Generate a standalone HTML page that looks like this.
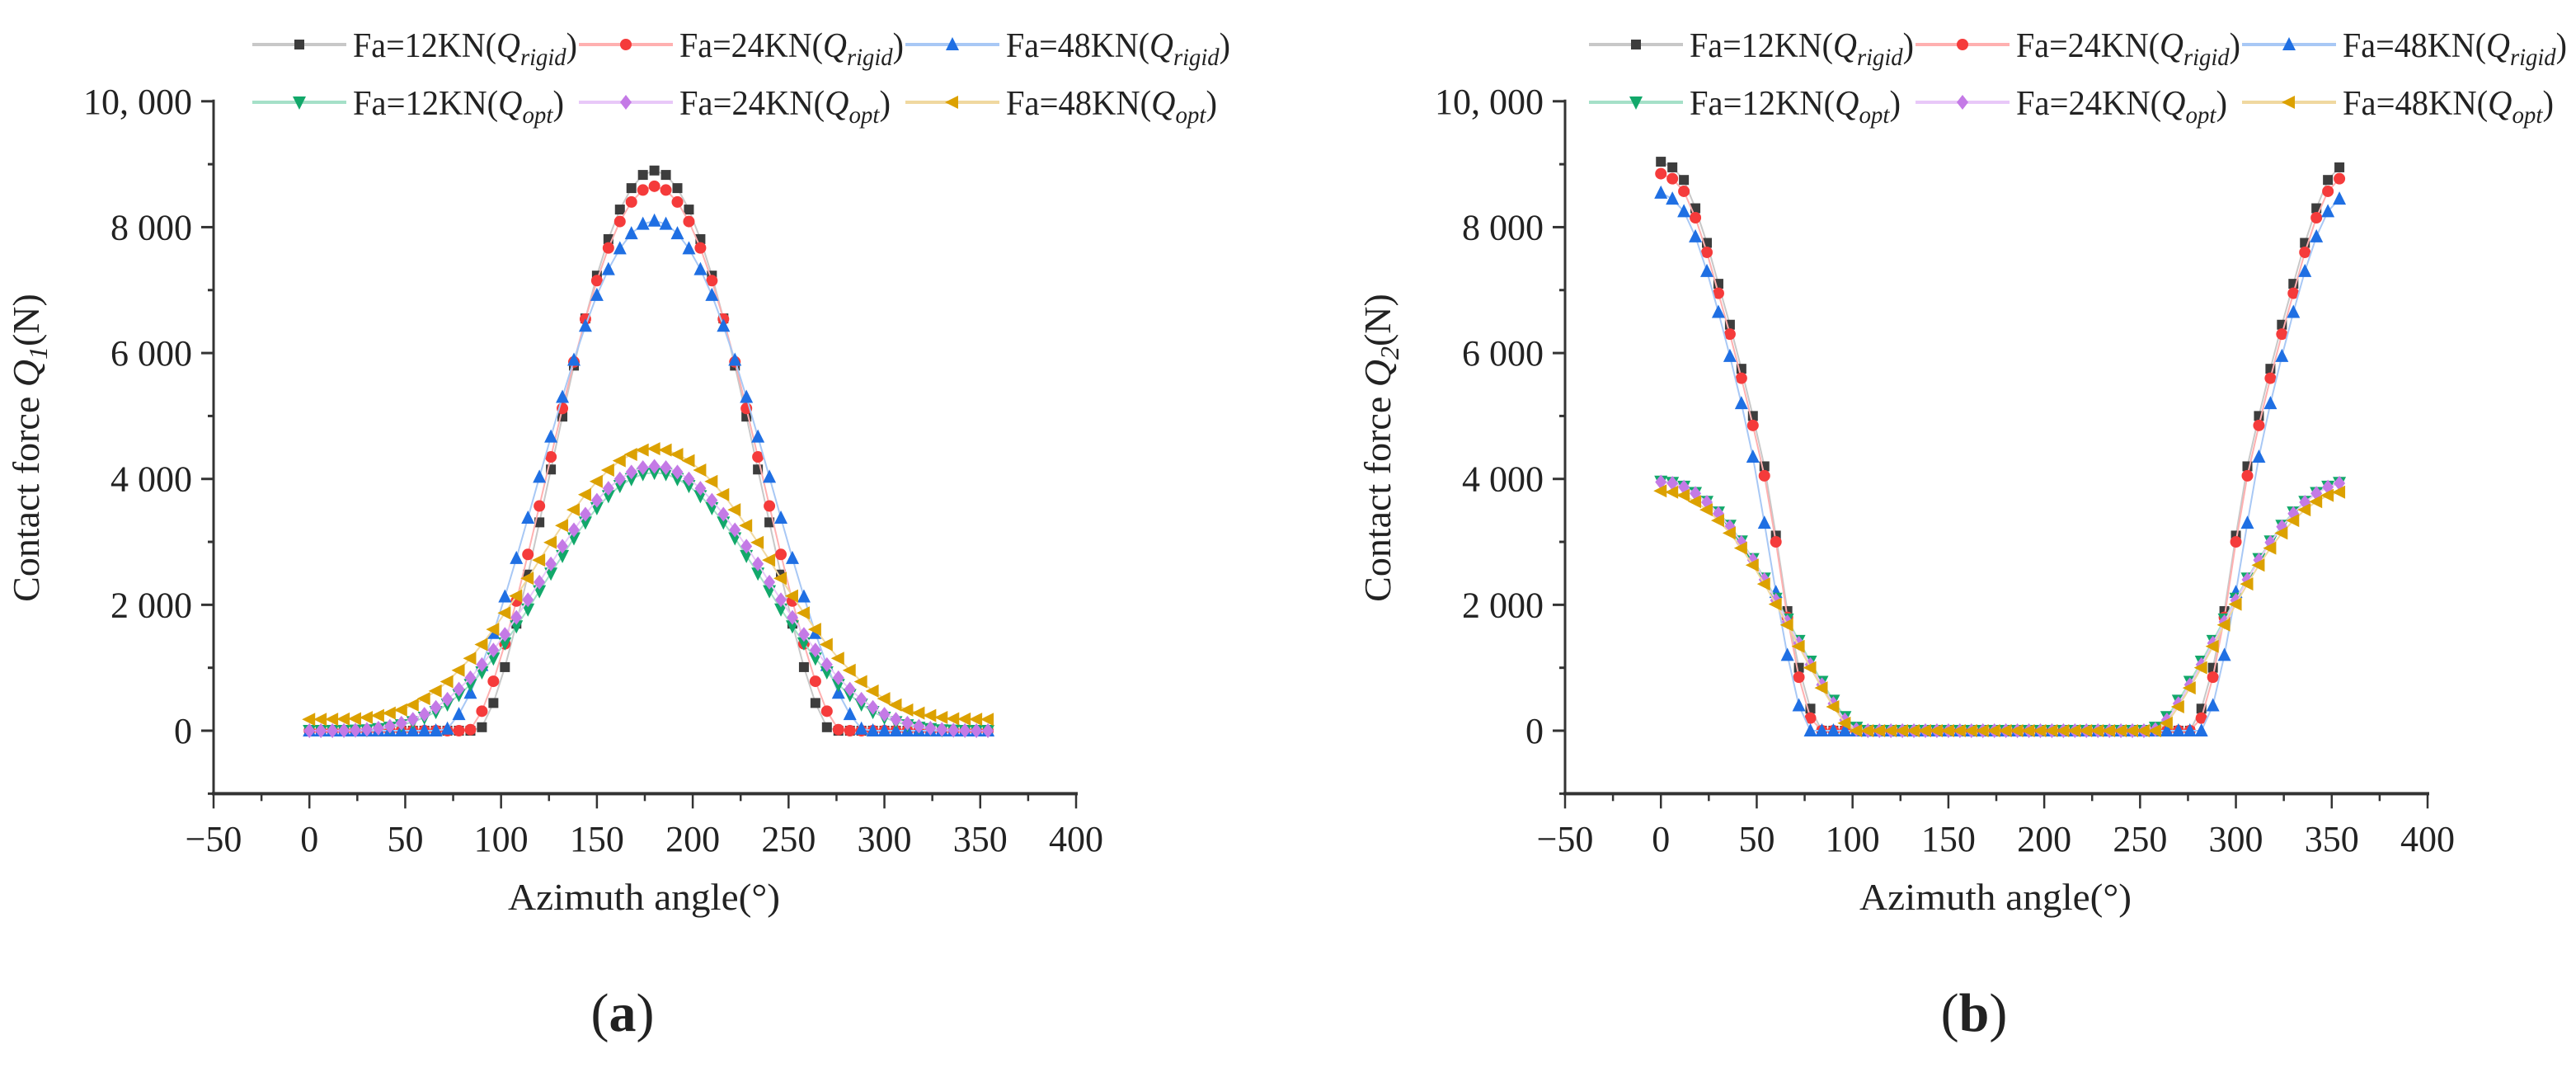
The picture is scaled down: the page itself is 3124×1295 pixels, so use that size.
<!DOCTYPE html>
<html>
<head>
<meta charset="utf-8">
<style>
  html,body{margin:0;padding:0;background:#fff;}
  svg{display:block;}
  text{font-family:"Liberation Serif","DejaVu Serif",serif;fill:#222;}
</style>
</head>
<body>
<svg id="fig" width="3124" height="1295" viewBox="0 0 3124 1295" xmlns="http://www.w3.org/2000/svg"></svg>
<script>
// ---- shared data ----
const theta = [0,6,12,18,24,30,36,42,48,54,60,66,72,78,84,90,96,102,108,114,120,126,132,138,144,150,156,162,168,174,180,186,192,198,204,210,216,222,228,234,240,246,252,258,264,270,276,282,288,294,300,306,312,318,324,330,336,342,348,354];
const seriesNames = ["Fa=12KN(Q_rigid)","Fa=24KN(Q_rigid)","Fa=48KN(Q_rigid)","Fa=12KN(Q_opt)","Fa=24KN(Q_opt)","Fa=48KN(Q_opt)"];
const yTicks = [0,2000,4000,6000,8000,10000];
const yTickLabels = ["0","2 000","4 000","6 000","8 000","10, 000"];
const xTicks = [-50,0,50,100,150,200,250,300,350,400];

// ---- chart (a): Q1 ----
const aRigid12 = [0,0,0,0,0,0,0,0,0,0,0,0,0,0,0,55,440,1010,1700,2480,3310,4150,4990,5800,6550,7230,7810,8280,8620,8830,8900,8830,8620,8280,7810,7230,6550,5800,4990,4150,3310,2480,1700,1010,440,55,0,0,0,0,0,0,0,0,0,0,0,0,0,0];
const aRigid24 = [0,0,0,0,0,0,0,0,0,0,0,0,0,0,17,310,785,1380,2060,2800,3570,4350,5120,5860,6540,7150,7670,8090,8400,8590,8650,8590,8400,8090,7670,7150,6540,5860,5120,4350,3570,2800,2060,1380,785,310,17,0,0,0,0,0,0,0,0,0,0,0,0,0];
const aRigid48 = [0,0,0,0,0,0,0,0,0,0,0,0,30,260,600,1040,1550,2130,2740,3380,4030,4670,5300,5890,6430,6920,7330,7660,7900,8050,8100,8050,7900,7660,7330,6920,6430,5890,5300,4670,4030,3380,2740,2130,1550,1040,600,260,30,0,0,0,0,0,0,0,0,0,0,0];
const aOpt12 = [0,0,0,0,5,10,30,50,90,140,210,300,420,570,730,930,1150,1390,1660,1930,2220,2500,2780,3060,3310,3540,3730,3890,4000,4080,4100,4080,4000,3890,3730,3540,3310,3060,2780,2500,2220,1930,1660,1390,1150,930,730,570,420,300,210,140,90,50,30,10,5,0,0,0];
const aOpt24 = [0,0,0,3,8,20,40,70,120,180,260,370,500,660,840,1050,1280,1530,1800,2080,2360,2650,2930,3190,3440,3660,3850,4000,4110,4180,4200,4180,4110,4000,3850,3660,3440,3190,2930,2650,2360,2080,1800,1530,1280,1050,840,660,500,370,260,180,120,70,40,20,8,3,0,0];
const aOpt48 = [180,180,181,185,190,210,240,280,330,410,510,630,780,960,1150,1370,1610,1870,2140,2420,2710,2990,3260,3510,3750,3960,4140,4290,4390,4460,4480,4460,4390,4290,4140,3960,3750,3510,3260,2990,2710,2420,2140,1870,1610,1370,1150,960,780,630,510,410,330,280,240,210,190,185,181,180];

// ---- chart (b): Q2 ----
const bRigid12 = [9040,8950,8750,8300,7750,7100,6450,5750,5000,4200,3100,1900,1000,350,0,0,0,0,0,0,0,0,0,0,0,0,0,0,0,0,0,0,0,0,0,0,0,0,0,0,0,0,0,0,0,0,0,350,1000,1900,3100,4200,5000,5750,6450,7100,7750,8300,8750,8950];
const bRigid24 = [8850,8770,8570,8150,7600,6950,6300,5600,4850,4050,3000,1800,850,200,0,0,0,0,0,0,0,0,0,0,0,0,0,0,0,0,0,0,0,0,0,0,0,0,0,0,0,0,0,0,0,0,0,200,850,1800,3000,4050,4850,5600,6300,6950,7600,8150,8570,8770];
const bRigid48 = [8545,8450,8250,7850,7300,6650,5950,5200,4350,3300,2200,1200,400,0,0,0,0,0,0,0,0,0,0,0,0,0,0,0,0,0,0,0,0,0,0,0,0,0,0,0,0,0,0,0,0,0,0,0,400,1200,2200,3300,4350,5200,5950,6650,7300,7850,8250,8450];
const bOpt12 = [3960,3940,3880,3780,3640,3470,3260,3010,2730,2420,2100,1770,1430,1100,780,480,220,50,0,0,0,0,0,0,0,0,0,0,0,0,0,0,0,0,0,0,0,0,0,0,0,0,0,50,220,480,780,1100,1430,1770,2100,2420,2730,3010,3260,3470,3640,3780,3880,3940];
const bOpt24 = [3950,3930,3870,3770,3630,3450,3240,2990,2710,2400,2070,1730,1390,1050,730,430,170,20,0,0,0,0,0,0,0,0,0,0,0,0,0,0,0,0,0,0,0,0,0,0,0,0,0,20,170,430,730,1050,1390,1730,2070,2400,2710,2990,3240,3450,3630,3770,3870,3930];
const bOpt48 = [3810,3790,3740,3640,3510,3340,3140,2900,2630,2330,2010,1680,1340,1000,680,380,120,0,0,0,0,0,0,0,0,0,0,0,0,0,0,0,0,0,0,0,0,0,0,0,0,0,0,0,120,380,680,1000,1340,1680,2010,2330,2630,2900,3140,3340,3510,3640,3740,3790];

const NS = "http://www.w3.org/2000/svg";
const svg = document.getElementById("fig");
const colors = ["#3d3d3d","#f53b3b","#1f6fe3","#12a86a","#c47ae6","#dca100"];
const lineColors = ["#c8c8c8","#ffb0b0","#a8c8f5","#a5e0c8","#e8c8f8","#f0d8a0"];
const shapes = ["square","circle","triUp","triDown","diamond","triLeft"];

function el(tag, attrs, parent){
  const e = document.createElementNS(NS, tag);
  for (const k in attrs) e.setAttribute(k, attrs[k]);
  (parent||svg).appendChild(e);
  return e;
}

function drawMarker(g, shape, x, y, c){
  let m;
  const s = 8;
  if (shape==="square") m = el("rect",{x:x-6,y:y-6,width:12,height:12,fill:c},g);
  else if (shape==="circle") m = el("circle",{cx:x,cy:y,r:7,fill:c},g);
  else if (shape==="triUp") m = el("polygon",{points:`${x},${y-s-1} ${x-s},${y+s-1} ${x+s},${y+s-1}`,fill:c},g);
  else if (shape==="triDown") m = el("polygon",{points:`${x},${y+s+1} ${x-s},${y-s+1} ${x+s},${y-s+1}`,fill:c},g);
  else if (shape==="diamond") m = el("polygon",{points:`${x},${y-s-1} ${x+s-1},${y} ${x},${y+s+1} ${x-s+1},${y}`,fill:c},g);
  else m = el("polygon",{points:`${x-s-1},${y} ${x+s-1},${y-s} ${x+s-1},${y+s}`,fill:c},g);
  return m;
}

function legendLabel(parent, x, y, fa, sub, width){
  const t = el("text",{x:x,y:y,"font-size":42,textLength:width,lengthAdjust:"spacingAndGlyphs"},parent);
  
  
  t.appendChild(document.createTextNode(fa+"("));
  const q = el("tspan",{"font-style":"italic"},t); q.textContent="Q";
  const s = el("tspan",{"font-style":"italic","font-size":30,dy:10},t); s.textContent=sub;
  const c = el("tspan",{dy:-10},t); c.textContent=")";
}

function drawChart(ox, series, chartName, qSub, panelLabel, legendX){
  const g = el("g",{});
  
  
  const x0 = ox, pxPerDeg = 1046/450;
  const sx = v => x0 + (v + 50) * pxPerDeg;
  const sy = v => 886 - v * 0.07632;
  const yTop = sy(10000), yBot = sy(-1000);

  const yAxis = el("line",{x1:x0,y1:yTop-2,x2:x0,y2:yBot,stroke:"#333","stroke-width":3},g);
  
  
  const xAxis = el("line",{x1:x0-2,y1:yBot,x2:sx(400)+2,y2:yBot,stroke:"#333","stroke-width":4},g);
  
  

  for (let v=-1000; v<=10000; v+=1000){
    const major = v % 2000 === 0;
    el("line",{x1:x0-(major?15:7),y1:sy(v),x2:x0,y2:sy(v),stroke:"#333","stroke-width":3},g);
  }
  yTicks.forEach((v,i)=>{
    const t = el("text",{x:x0-26,y:sy(v)+15,"font-size":44,"text-anchor":"end"},g);
    
    
    t.setAttribute('xml:space','preserve');
    t.textContent = yTickLabels[i];
  });
  for (let v=-50; v<=400; v+=25){
    const major = v % 50 === 0;
    el("line",{x1:sx(v),y1:yBot,x2:sx(v),y2:yBot+(major?18:9),stroke:"#333","stroke-width":2.5},g);
  }
  xTicks.forEach(v=>{
    const t = el("text",{x:sx(v),y:1032,"font-size":44,"text-anchor":"middle"},g);
    
    
    t.textContent = (v<0?"\u221250":String(v));
  });
  const xt = el("text",{x:x0+522,y:1103,"font-size":46,"text-anchor":"middle",textLength:330,lengthAdjust:"spacingAndGlyphs"},g);
  
  
  xt.textContent = "Azimuth angle(\u00b0)";
  const yt = el("text",{x:0,y:0,"font-size":46,"text-anchor":"middle",transform:`translate(${x0-212},543) rotate(-90)`},g);
  
  
  yt.appendChild(document.createTextNode("Contact force "));
  const q = el("tspan",{"font-style":"italic"},yt); q.textContent="Q";
  const qs = el("tspan",{"font-style":"italic","font-size":32,dy:10},yt); qs.textContent=qSub;
  const qe = el("tspan",{dy:-10},yt); qe.textContent="(N)";

  series.forEach((vals,si)=>{
    const sg = el("g",{},g);
    
    
    const pts = theta.map((t,i)=>sx(t)+","+sy(vals[i])).join(" ");
    const pl = el("polyline",{points:pts,fill:"none",stroke:lineColors[si],"stroke-width":2},sg);
    
    
    theta.forEach((t,i)=>{
      const m = drawMarker(sg, shapes[si], sx(t), sy(vals[i]), colors[si]);
      
      
    });
  });

  const lg = el("g",{},g);
  
  
  const rows = [54,124];
  seriesNames.forEach((nm,si)=>{
    const col = si % 3, row = Math.floor(si/3);
    const lx = legendX + col*396, ly = rows[row];
    const eg = el("g",{},lg);
    
    
    el("line",{x1:lx,y1:ly,x2:lx+114,y2:ly,stroke:lineColors[si],"stroke-width":4},eg);
    drawMarker(eg, shapes[si], lx+57, ly, colors[si]);
    const fa = nm.split("(")[0];
    const sub = nm.indexOf("rigid")>=0 ? "rigid" : "opt";
    legendLabel(eg, lx+122, ly+15, fa, sub, sub==="rigid"?272:256);
  });

  const pl = el("text",{x:x0+496,y:1250,"font-size":66,"text-anchor":"middle"},svg);
  
  
  pl.appendChild(document.createTextNode("("));
  const b = el("tspan",{"font-weight":"bold"},pl); b.textContent = panelLabel;
  const e2 = el("tspan",{},pl); e2.textContent = ")";
}

drawChart(259, [aRigid12,aRigid24,aRigid48,aOpt12,aOpt24,aOpt48], "chart-a-q1", "1", "a", 306);
drawChart(1898, [bRigid12,bRigid24,bRigid48,bOpt12,bOpt24,bOpt48], "chart-b-q2", "2", "b", 1927);
</script>
</body>
</html>
